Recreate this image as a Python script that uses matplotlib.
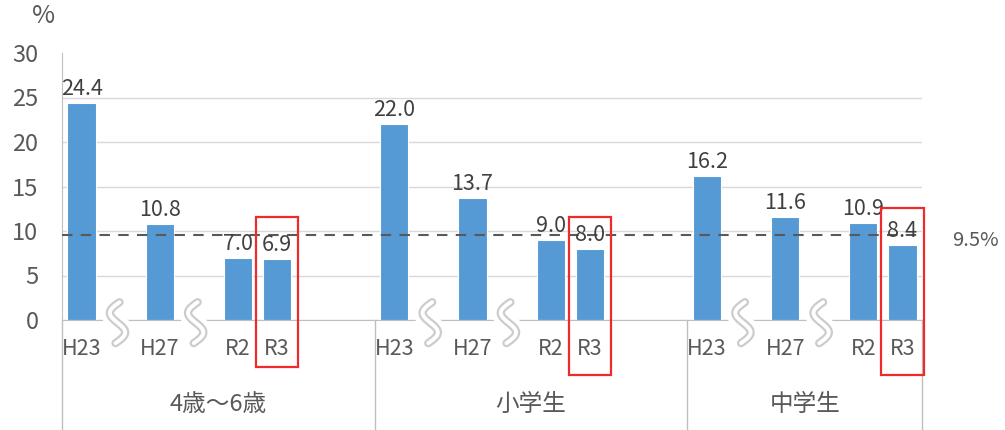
import numpy as np
import matplotlib
matplotlib.use("Agg")
import matplotlib.pyplot as plt
import matplotlib.transforms as mtransforms
from matplotlib.patches import Rectangle

# ─── Data ─────────────────────────────────────────────────────────────────────

GROUPS    = ["4歳〜6歳", "小学生", "中学生"]
PERIODS   = ["H23", "H27", "R2", "R3"]
VALUES    = [
    [24.4, 10.8, 7.0, 6.9],
    [22.0, 13.7, 9.0, 8.0],
    [16.2, 11.6, 10.9, 8.4],
]
TARGET    = 9.5
Y_TICKS   = [0, 5, 10, 15, 20, 25, 30]

# ─── Style ────────────────────────────────────────────────────────────────────

BAR_COLOR  = "#5599D5"
TEXT_COLOR = "#595959"
GRID_COLOR = "#D9D9D9"
AXIS_COLOR = "#BFBFBF"
RED        = "#EE2A2A"

plt.rcParams["font.family"] = ["Noto Sans CJK JP", "DejaVu Sans"]
plt.rcParams["text.color"] = TEXT_COLOR

# slots per group: H23, gap, H27, gap, R2, R3, gap, gap
SLOT_POS   = np.array([0.5, 2.5, 4.5, 5.5])
GROUP_OFF  = [0, 8, 16]
GROUP_END  = [8, 16, 22]
SQUIGGLES  = [1.5, 3.5]
RECT_TOP   = [11.6, 11.6, 12.6]
RECT_BOT   = [-5.3, -6.2, -6.2]

fig = plt.figure(figsize=(10.05, 4.30), dpi=100)
ax = fig.add_axes([62 / 1005, 110 / 430, 860 / 1005, 267 / 430])

xs_all, labels_all = [], []
for g, off in enumerate(GROUP_OFF):
    xs = off + SLOT_POS
    ax.bar(xs, VALUES[g], width=0.72, color=BAR_COLOR,
           edgecolor="white", linewidth=0.8, zorder=2)
    for x, v in zip(xs, VALUES[g]):
        ax.annotate(f"{v:.1f}", (x, v), xytext=(0, 2),
                    textcoords="offset points", ha="center", va="bottom",
                    fontsize=15.5, color="#404040", zorder=4)
    xs_all += list(xs)
    labels_all += PERIODS

    # red highlight around R3
    r3 = xs[-1]
    ax.add_patch(Rectangle((r3 - 0.54, RECT_BOT[g]), 1.08,
                           RECT_TOP[g] - RECT_BOT[g], fill=False,
                           edgecolor=RED, linewidth=1.6, clip_on=False,
                           zorder=6))

    # squiggle break marks
    t = np.linspace(0, 1, 80)
    for s in SQUIGGLES:
        yy = 2.0 - t * 4.6
        xx = off + s - 0.08 - 0.22 * np.sin(2 * np.pi * t) + 0.1 * (0.5 - t)
        ax.plot(xx, yy, color="white", lw=13, clip_on=False, zorder=3,
                solid_capstyle="butt")
        ax.plot(xx, yy, color="#CCCCCC", lw=6, clip_on=False, zorder=3,
                solid_capstyle="round")
        ax.plot(xx, yy, color="white", lw=2.8, clip_on=False, zorder=3,
                solid_capstyle="round")

# group labels and separators below the axis
trans = mtransforms.blended_transform_factory(ax.transData, ax.transAxes)
for g, off in enumerate(GROUP_OFF):
    mid = (off + GROUP_END[g]) / 2
    ax.text(mid, -0.318, GROUPS[g], transform=trans, ha="center",
            va="center", fontsize=17)
for x in [0, 8, 16, 22]:
    ax.plot([x, x], [0, -0.42], transform=trans, color=AXIS_COLOR,
            lw=1, clip_on=False, zorder=1)

# target line
ax.axhline(TARGET, color=TEXT_COLOR, lw=1.5, ls=(0, (5, 4)), zorder=3)
ax.text(1.035, TARGET - 0.6,
        f"{TARGET}%", transform=mtransforms.blended_transform_factory(
            ax.transAxes, ax.transData),
        ha="left", va="center", fontsize=14.5, color=TEXT_COLOR)

ax.set_xlim(0, 22)
ax.set_ylim(0, 30)
ax.set_yticks(Y_TICKS)
ax.set_yticklabels([str(v) for v in Y_TICKS], fontsize=17, color=TEXT_COLOR)
ax.set_xticks(xs_all)
ax.set_xticklabels(labels_all, fontsize=15.5, color=TEXT_COLOR)
ax.tick_params(axis="y", length=0, pad=17)
ax.tick_params(axis="x", length=0, pad=13)

ax.yaxis.grid(True, color=GRID_COLOR, lw=1, zorder=0)
ax.get_ygridlines()[-1].set_visible(False)
ax.set_axisbelow(True)
for side in ["top", "right"]:
    ax.spines[side].set_visible(False)
ax.spines["left"].set_color(AXIS_COLOR)
ax.spines["bottom"].set_color(AXIS_COLOR)
ax.spines["bottom"].set_zorder(2.5)

ax.text(-0.022, 1.14, "%", transform=ax.transAxes, ha="center",
        va="center", fontsize=18)

fig.savefig("out.png", dpi=100, facecolor="white")
